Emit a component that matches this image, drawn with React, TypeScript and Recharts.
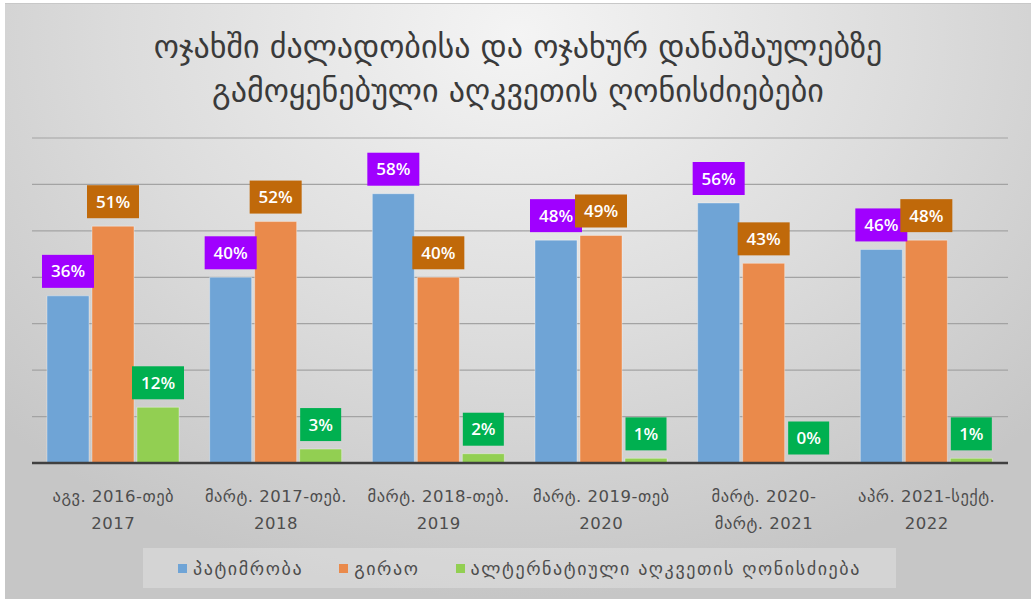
import React from 'react';
import { BarChart, Bar, XAxis, YAxis, CartesianGrid, LabelList } from 'recharts';

const categories = [
  'აგვ. 2016-თებ\n2017',
  'მარტ. 2017-თებ.\n2018',
  'მარტ. 2018-თებ.\n2019',
  'მარტ. 2019-თებ\n2020',
  'მარტ. 2020-\nმარტ. 2021',
  'აპრ. 2021-სექტ.\n2022',
];
const detention = [36, 40, 58, 48, 56, 46];
const bail = [51, 52, 40, 49, 43, 48];
const alternative = [12, 3, 2, 1, 0, 1];
const seriesNames = ['პატიმრობა', 'გირაო', 'ალტერნატიული აღკვეთის ღონისძიება'];
const yTicks = [0, 10, 20, 30, 40, 50, 60, 70];

const titleLines = [
  'ოჯახში ძალადობისა და ოჯახურ დანაშაულებზე',
  'გამოყენებული აღკვეთის ღონისძიებები',
];

const barColors = ['#6fa4d6', '#ea8a4b', '#92cf52'];
const boxColors = ['#a000ff', '#c0690a', '#00b050'];

const data = categories.map((c, i) => ({
  name: c,
  detention: detention[i],
  bail: bail[i],
  alternative: alternative[i],
}));

const FONT = '"DejaVu Sans", sans-serif';
const NUM_FONT = '"Open Sans", "DejaVu Sans", sans-serif';

const Tick = ({ x, y, payload }: any) => {
  const lines = String(payload.value).split('\n');
  return (
    <text x={x} y={y} textAnchor="middle" fill="#4d4d4d" fontSize={16.5} fontFamily={FONT} letterSpacing={0.5}>
      {lines.map((l, i) => (
        <tspan key={i} x={x} dy={i === 0 ? 31 : 27}>{l}</tspan>
      ))}
    </text>
  );
};

const makeBox = (color: string) => (props: any) => {
  const { x, y, width, value } = props;
  const label = `${value}%`;
  const w = 19 + 11 * label.length;
  const h = 33;
  const cx = Number(x) + Number(width) / 2;
  const bottom = Number(y) - 8;
  return (
    <g>
      <rect x={cx - w / 2} y={bottom - h} width={w} height={h} fill={color} />
      <text x={cx} y={bottom - h / 2 + 6} textAnchor="middle" fill="#fff" fontSize={17} fontWeight={600} fontFamily={NUM_FONT}>
        {label}
      </text>
    </g>
  );
};

const keys = ['detention', 'bail', 'alternative'];

export default function App() {
  return (
    <div style={{ position: 'relative', width: 1031, height: 600, background: '#fff' }}>
      <style>{'body{margin:0}'}</style>
      <div
        style={{
          position: 'absolute',
          left: 5,
          top: 3,
          width: 1026,
          height: 595,
          borderTop: '1px solid #c8c8c8',
          background: 'radial-gradient(ellipse 70% 95% at 50% 5%, #f4f4f4 0%, #dcdcdc 55%, #c6c6c6 100%)',
        }}
      >
        <div
          style={{
            position: 'absolute',
            top: 21,
            left: 0,
            width: '100%',
            textAlign: 'center',
            fontFamily: FONT,
            fontSize: 32,
            lineHeight: '44px',
            color: '#3a3a3a',
          }}
        >
          {titleLines.map((t, i) => (
            <div key={i}>{t}</div>
          ))}
        </div>
        <BarChart
          width={1026}
          height={595}
          data={data}
          margin={{ top: 134, right: 23, left: 27, bottom: 56 }}
          barCategoryGap={15}
          barGap={3}
          style={{ position: 'absolute', left: 0, top: 0 }}
        >
          <CartesianGrid vertical={false} stroke="#a3a3a3" strokeWidth={1.2} />
          <YAxis hide domain={[0, 70]} ticks={yTicks} />
          <XAxis
            dataKey="name"
            height={80}
            interval={0}
            tickLine={false}
            axisLine={{ stroke: '#404040', strokeWidth: 2.5 }}
            tick={<Tick />}
          />
          {keys.map((k, i) => (
            <Bar
              key={k}
              dataKey={k}
              name={seriesNames[i]}
              fill={barColors[i]}
              stroke="#ffffff"
              strokeOpacity={0.35}
              minPointSize={(v: number) => (v === 0 ? 0.5 : 0)}
              isAnimationActive={false}
            >
              <LabelList dataKey={k} content={makeBox(boxColors[i])} />
            </Bar>
          ))}
        </BarChart>
        <div
          style={{
            position: 'absolute',
            left: 138,
            top: 544,
            width: 753,
            height: 40,
            background: 'rgba(255,255,255,0.25)',
            display: 'flex',
            alignItems: 'center',
            justifyContent: 'center',
            gap: 36,
            fontFamily: FONT,
            fontSize: 18,
            letterSpacing: 1.6,
            color: '#4d4d4d',
          }}
        >
          {seriesNames.map((n, i) => (
            <div key={n} style={{ display: 'flex', alignItems: 'center', gap: 6 }}>
              <span style={{ display: 'inline-block', width: 9, height: 9, background: barColors[i] }} />
              <span>{n}</span>
            </div>
          ))}
        </div>
      </div>
    </div>
  );
}
